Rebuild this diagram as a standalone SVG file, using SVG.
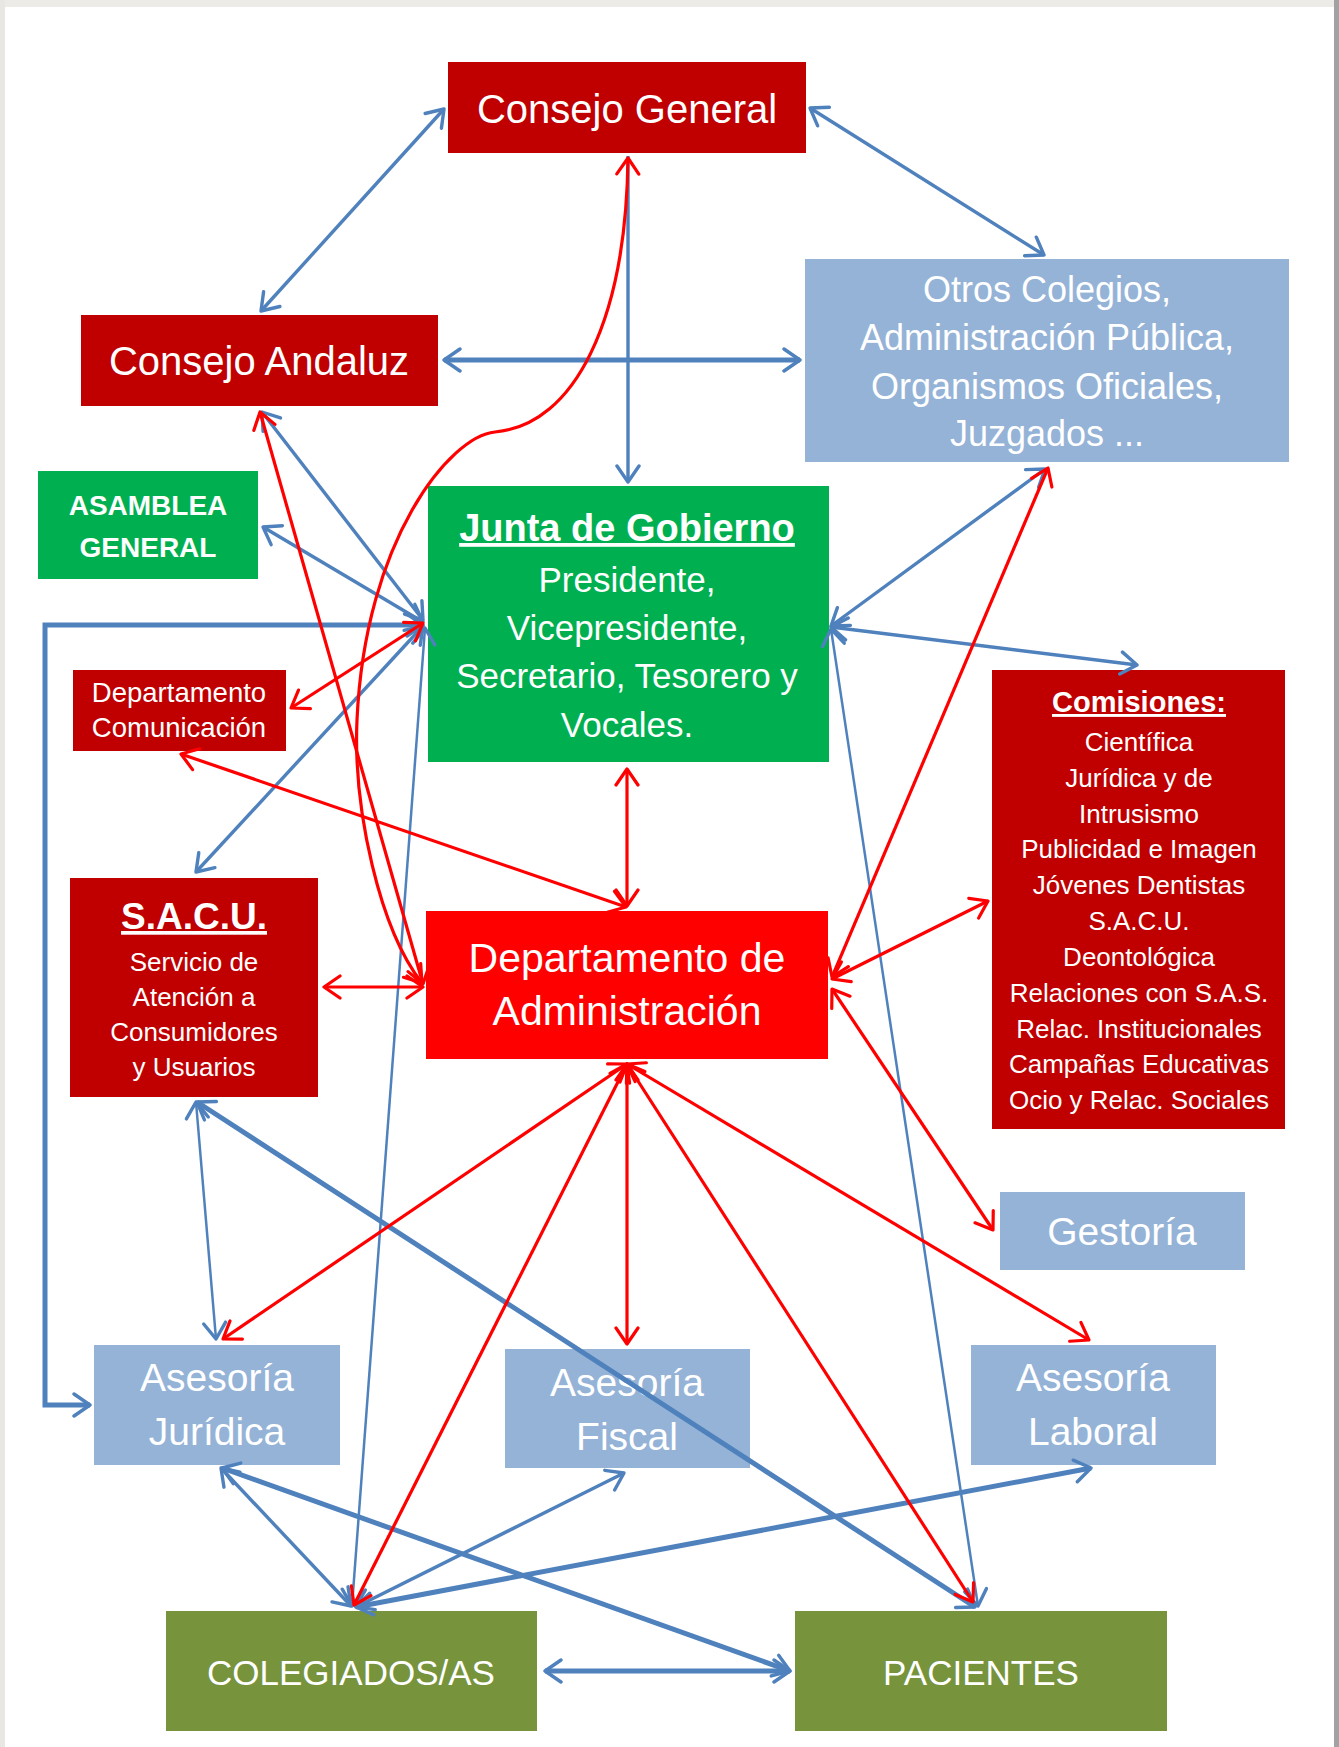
<svg xmlns="http://www.w3.org/2000/svg" width="1339" height="1747" viewBox="0 0 1339 1747">
<style>
.t{font-family:"Liberation Sans",Arial,sans-serif;fill:#FFFFFF;text-anchor:middle}
.b{font-weight:bold}
.u{text-decoration:underline}
.bl{fill:none;stroke:#4F81BD;stroke-width:3.4;marker-start:url(#ab);marker-end:url(#ab)}
.bk{stroke-width:5}
.bt{stroke-width:2.5}
.rd{fill:none;stroke:#FF0000;stroke-width:3.2;marker-start:url(#ar);marker-end:url(#ar)}
</style>
<defs>
<marker id="ab" viewBox="0 0 22 26" refX="19" refY="13" markerWidth="22" markerHeight="26" markerUnits="userSpaceOnUse" orient="auto-start-reverse"><path d="M3,2 L19,13 L3,24" fill="none" stroke="#4F81BD" stroke-width="3.4" stroke-linecap="round" stroke-linejoin="round"/></marker>
<marker id="ar" viewBox="0 0 22 26" refX="19" refY="13" markerWidth="22" markerHeight="26" markerUnits="userSpaceOnUse" orient="auto-start-reverse"><path d="M3,2 L19,13 L3,24" fill="none" stroke="#FF0000" stroke-width="3.2" stroke-linecap="round" stroke-linejoin="round"/></marker>
</defs>
<rect x="0" y="0" width="1339" height="1747" fill="#FFFFFF"/>
<rect x="0" y="0" width="1339" height="7" fill="#ECEBE7"/>
<rect x="0" y="0" width="5" height="1747" fill="#E9E7E3"/>
<rect x="1334" y="0" width="5" height="1747" fill="#A2A2A2"/>

<g id="consejo-general"><rect x="448" y="62" width="358" height="91" fill="#C00000"/><text class="t" x="627" y="123" font-size="40">Consejo General</text></g>
<g id="consejo-andaluz"><rect x="81" y="315" width="357" height="91" fill="#C00000"/><text class="t" x="259" y="375" font-size="40">Consejo Andaluz</text></g>
<g id="otros"><rect x="805" y="259" width="484" height="203" fill="#95B3D7"/>
<text class="t" font-size="36"><tspan x="1047" y="302">Otros Colegios,</tspan><tspan x="1047" y="350">Administración Pública,</tspan><tspan x="1047" y="399">Organismos Oficiales,</tspan><tspan x="1047" y="446">Juzgados ...</tspan></text></g>
<g id="asamblea"><rect x="38" y="471" width="220" height="108" fill="#00B050"/><text class="t b" font-size="28"><tspan x="148" y="515">ASAMBLEA</tspan><tspan x="148" y="557">GENERAL</tspan></text></g>
<g id="junta"><rect x="428" y="486" width="401" height="276" fill="#00B050"/>
<text class="t b u" x="627" y="541" font-size="38">Junta de Gobierno</text>
<text class="t" font-size="35"><tspan x="627" y="592">Presidente,</tspan><tspan x="627" y="640">Vicepresidente,</tspan><tspan x="627" y="688">Secretario, Tesorero y</tspan><tspan x="627" y="737">Vocales.</tspan></text></g>
<g id="dpto-comunicacion"><rect x="73" y="670" width="213" height="81" fill="#C00000"/><text class="t" font-size="27.5"><tspan x="179" y="702">Departamento</tspan><tspan x="179" y="737">Comunicación</tspan></text></g>
<g id="sacu"><rect x="70" y="878" width="248" height="219" fill="#C00000"/>
<text class="t b u" x="194" y="929" font-size="37">S.A.C.U.</text>
<text class="t" font-size="26"><tspan x="194" y="971">Servicio de</tspan><tspan x="194" y="1006">Atención a</tspan><tspan x="194" y="1041">Consumidores</tspan><tspan x="194" y="1076">y Usuarios</tspan></text></g>
<g id="dpto-administracion"><rect x="426" y="911" width="402" height="148" fill="#FF0000"/><text class="t" font-size="41"><tspan x="627" y="972">Departamento de</tspan><tspan x="627" y="1025">Administración</tspan></text></g>
<g id="comisiones"><rect x="992" y="670" width="293" height="459" fill="#C00000"/>
<text class="t b u" x="1139" y="712" font-size="29">Comisiones:</text>
<text class="t" font-size="26"><tspan x="1139" y="751">Científica</tspan><tspan x="1139" y="787">Jurídica y de</tspan><tspan x="1139" y="823">Intrusismo</tspan><tspan x="1139" y="858">Publicidad e Imagen</tspan><tspan x="1139" y="894">Jóvenes Dentistas</tspan><tspan x="1139" y="930">S.A.C.U.</tspan><tspan x="1139" y="966">Deontológica</tspan><tspan x="1139" y="1002">Relaciones con S.A.S.</tspan><tspan x="1139" y="1038">Relac. Institucionales</tspan><tspan x="1139" y="1073">Campañas Educativas</tspan><tspan x="1139" y="1109">Ocio y Relac. Sociales</tspan></text></g>
<g id="gestoria"><rect x="1000" y="1192" width="245" height="78" fill="#95B3D7"/><text class="t" x="1122" y="1245" font-size="39">Gestoría</text></g>
<g id="asesoria-juridica"><rect x="94" y="1345" width="246" height="120" fill="#95B3D7"/><text class="t" font-size="39"><tspan x="217" y="1391">Asesoría</tspan><tspan x="217" y="1445">Jurídica</tspan></text></g>
<g id="asesoria-fiscal"><rect x="505" y="1349" width="245" height="119" fill="#95B3D7"/><text class="t" font-size="39"><tspan x="627" y="1396">Asesoría</tspan><tspan x="627" y="1450">Fiscal</tspan></text></g>
<g id="asesoria-laboral"><rect x="971" y="1345" width="245" height="120" fill="#95B3D7"/><text class="t" font-size="39"><tspan x="1093" y="1391">Asesoría</tspan><tspan x="1093" y="1445">Laboral</tspan></text></g>
<g id="colegiados"><rect x="166" y="1611" width="371" height="120" fill="#77933C"/><text class="t" x="351" y="1685" font-size="35">COLEGIADOS/AS</text></g>
<g id="pacientes"><rect x="795" y="1611" width="372" height="120" fill="#77933C"/><text class="t" x="981" y="1685" font-size="35">PACIENTES</text></g>

<g id="connectors">
<line class="bl" x1="444" y1="109" x2="261" y2="311"/>
<line class="bl" x1="810" y1="108" x2="1044" y2="255"/>
<line class="bl" x1="628" y1="156" x2="628" y2="482" style="marker-start:none"/>
<line class="bl bk" x1="444" y1="360" x2="800" y2="360"/>
<line class="bl" x1="262" y1="412" x2="423" y2="620"/>
<line class="bl" x1="263" y1="527" x2="423" y2="622"/>
<polyline class="bl bk" points="423,625 45,625 45,1405 90,1405"/>
<line class="bl" x1="423" y1="626" x2="196" y2="872"/>
<line class="bl bt" x1="425" y1="628" x2="352" y2="1606"/>
<line class="bl" x1="831" y1="626" x2="1045" y2="469"/>
<line class="bl" x1="831" y1="627" x2="1137" y2="665"/>
<line class="bl bt" x1="831" y1="629" x2="978" y2="1606"/>
<line class="bl bt" x1="196" y1="1102" x2="216" y2="1339"/>
<line class="bl bk" x1="197" y1="1102" x2="975" y2="1607"/>
<line class="bl" x1="221" y1="1468" x2="351" y2="1606"/>
<line class="bl bk" x1="222" y1="1468" x2="790" y2="1671"/>
<line class="bl" x1="356" y1="1607" x2="624" y2="1473"/>
<line class="bl bk" x1="356" y1="1607" x2="1091" y2="1468"/>
<line class="bl bk" x1="545" y1="1671" x2="790" y2="1671"/>

<path class="rd" d="M628,158 C626,320 575,425 495,432 C450,436 365,540 357,720 C353,810 380,930 422,983"/>
<line class="rd" x1="260" y1="412" x2="423" y2="984"/>
<line class="rd" x1="423" y1="623" x2="291" y2="708"/>
<line class="rd" x1="181" y1="754" x2="626" y2="907"/>
<line class="rd" x1="627" y1="769" x2="627" y2="906"/>
<line class="rd" x1="324" y1="987" x2="423" y2="987"/>
<line class="rd" x1="832" y1="977" x2="1048" y2="468"/>
<line class="rd" x1="832" y1="979" x2="988" y2="901"/>
<line class="rd" x1="832" y1="989" x2="993" y2="1230"/>
<line class="rd" x1="627" y1="1064" x2="223" y2="1339"/>
<line class="rd" x1="627" y1="1064" x2="354" y2="1605"/>
<line class="rd" x1="627" y1="1064" x2="627" y2="1344"/>
<line class="rd" x1="627" y1="1064" x2="973" y2="1602"/>
<line class="rd" x1="627" y1="1064" x2="1089" y2="1340"/>
</g>
</svg>
